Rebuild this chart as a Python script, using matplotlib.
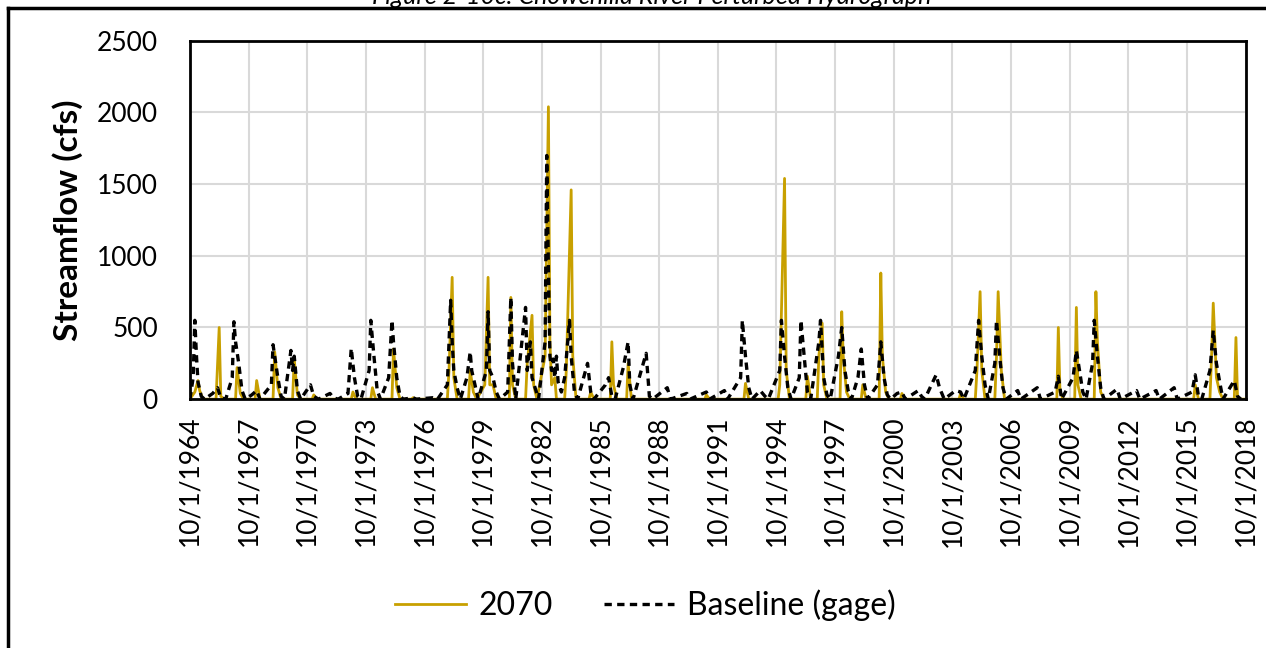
import pandas as pd
import matplotlib
matplotlib.use('Agg')
from matplotlib import pyplot as plt

plt.rcParams['font.family'] = ['Lato', 'DejaVu Sans']

# monthly key points (cfs)
base_dates = ['1964-10', '1964-12', '1965-01', '1965-02', '1965-03', '1965-05', '1965-07', '1965-12',
              '1966-03', '1966-05', '1966-08', '1966-12', '1967-01', '1967-02', '1967-04', '1967-06',
              '1967-08', '1967-12', '1968-03', '1968-05', '1968-12', '1969-01', '1969-02', '1969-04',
              '1969-06', '1969-08', '1969-12', '1970-01', '1970-02', '1970-04', '1970-06', '1970-12',
              '1971-02', '1971-05', '1971-12', '1972-02', '1972-05', '1972-11', '1973-01', '1973-03',
              '1973-05', '1973-07', '1973-12', '1974-01', '1974-03', '1974-05', '1974-07', '1974-12',
              '1975-02', '1975-03', '1975-05', '1975-07', '1975-09', '1976-03', '1976-05', '1977-03',
              '1977-06', '1977-12', '1978-02', '1978-03', '1978-04', '1978-06', '1978-08', '1978-12',
              '1979-02', '1979-03', '1979-05', '1979-07', '1979-12', '1980-01', '1980-02', '1980-04',
              '1980-06', '1980-08', '1981-01', '1981-03', '1981-04', '1981-06', '1981-12', '1982-01',
              '1982-03', '1982-04', '1982-08', '1982-12', '1983-01', '1983-02', '1983-03', '1983-04',
              '1983-05', '1983-06', '1983-07', '1983-08', '1983-10', '1983-12', '1984-03', '1984-04',
              '1984-06', '1984-08', '1985-02', '1985-04', '1985-06', '1986-01', '1986-03', '1986-05',
              '1986-07', '1986-12', '1987-03', '1987-04', '1987-06', '1988-02', '1988-04', '1988-06',
              '1989-03', '1989-05', '1990-03', '1990-05', '1991-03', '1991-05', '1992-02', '1992-04',
              '1992-12', '1993-01', '1993-03', '1993-05', '1993-07', '1993-12', '1994-03', '1994-05',
              '1994-12', '1995-01', '1995-03', '1995-05', '1995-07', '1995-12', '1996-01', '1996-03',
              '1996-05', '1996-07', '1996-12', '1997-01', '1997-03', '1997-05', '1997-07', '1997-12',
              '1998-02', '1998-04', '1998-06', '1998-08', '1998-12', '1999-02', '1999-04', '1999-06',
              '1999-12', '2000-02', '2000-04', '2000-06', '2000-08', '2000-12', '2001-03', '2001-05',
              '2002-01', '2002-03', '2002-05', '2002-12', '2003-02', '2003-05', '2003-12', '2004-03',
              '2004-05', '2004-12', '2005-02', '2005-04', '2005-06', '2005-08', '2005-12', '2006-01',
              '2006-03', '2006-05', '2006-07', '2007-02', '2007-04', '2008-02', '2008-04', '2009-01',
              '2009-03', '2009-05', '2009-12', '2010-02', '2010-04', '2010-06', '2010-08', '2010-12',
              '2011-01', '2011-03', '2011-05', '2011-07', '2012-03', '2012-05', '2013-03', '2013-05',
              '2014-03', '2014-05', '2015-02', '2015-04', '2016-01', '2016-03', '2016-05', '2016-07',
              '2016-12', '2017-02', '2017-04', '2017-06', '2017-08', '2018-03', '2018-05', '2018-07']
base_flow = [0, 150, 550, 300, 120, 20, 0, 40,
             80, 10, 0, 150, 540, 400, 250, 60,
             0, 30, 60, 0, 100, 380, 300, 150,
             20, 0, 340, 200, 300, 60, 0, 100,
             20, 0, 40, 10, 0, 40, 355, 150,
             20, 0, 200, 550, 300, 60, 0, 150,
             550, 400, 150, 20, 0, 10, 0, 10,
             0, 100, 690, 400, 200, 80, 0, 150,
             330, 200, 100, 0, 200, 610, 200, 150,
             50, 0, 50, 710, 250, 0, 640, 200,
             400, 150, 0, 400, 1700, 900, 300, 200,
             280, 150, 300, 120, 50, 150, 550, 300,
             50, 0, 250, 50, 0, 100, 150, 20,
             0, 220, 400, 100, 0, 320, 20, 0,
             80, 0, 40, 0, 50, 0, 60, 0,
             150, 550, 300, 80, 0, 60, 20, 0,
             200, 550, 300, 80, 0, 150, 550, 300,
             50, 0, 400, 550, 150, 30, 0, 300,
             500, 200, 60, 0, 150, 350, 100, 0,
             100, 400, 150, 30, 0, 40, 50, 0,
             60, 20, 0, 170, 80, 0, 60, 50,
             0, 200, 550, 300, 100, 0, 250, 550,
             300, 80, 0, 60, 0, 80, 0, 50,
             160, 0, 150, 340, 200, 50, 0, 250,
             550, 300, 80, 0, 70, 0, 60, 0,
             60, 0, 80, 0, 50, 170, 20, 0,
             200, 480, 250, 120, 0, 130, 20, 0]

fut_dates = ['1964-10', '1965-01', '1965-03', '1965-04', '1965-06', '1966-02', '1966-04', '1966-05',
             '1966-07', '1967-02', '1967-03', '1967-05', '1967-07', '1968-02', '1968-03', '1968-05',
             '1969-01', '1969-02', '1969-04', '1969-06', '1970-01', '1970-02', '1970-04', '1970-06',
             '1971-01', '1971-02', '1971-04', '1973-01', '1973-02', '1973-04', '1974-01', '1974-02',
             '1974-04', '1975-02', '1975-03', '1975-05', '1975-07', '1976-02', '1976-03', '1976-05',
             '1977-12', '1978-01', '1978-03', '1978-04', '1978-06', '1979-01', '1979-02', '1979-04',
             '1979-06', '1979-11', '1980-01', '1980-02', '1980-04', '1980-06', '1981-02', '1981-03',
             '1981-04', '1981-06', '1981-12', '1982-01', '1982-04', '1982-05', '1982-07', '1982-12',
             '1983-02', '1983-03', '1983-04', '1983-06', '1983-07', '1983-12', '1984-01', '1984-04',
             '1984-05', '1984-07', '1985-03', '1985-04', '1985-06', '1986-04', '1986-05', '1986-06',
             '1986-08', '1987-02', '1987-03', '1987-05', '1991-02', '1991-03', '1991-05', '1993-02',
             '1993-03', '1993-05', '1994-11', '1994-12', '1995-03', '1995-04', '1995-06', '1996-04',
             '1996-05', '1996-07', '1996-11', '1996-12', '1997-02', '1997-03', '1997-05', '1998-01',
             '1998-02', '1998-03', '1998-05', '1998-07', '1999-02', '1999-03', '1999-05', '2000-01',
             '2000-02', '2000-03', '2000-05', '2000-07', '2001-02', '2001-03', '2001-05', '2004-02',
             '2004-03', '2004-05', '2004-12', '2005-01', '2005-03', '2005-04', '2005-06', '2005-12',
             '2006-01', '2006-02', '2006-04', '2006-06', '2009-02', '2009-03', '2009-04', '2009-06',
             '2010-01', '2010-02', '2010-03', '2010-05', '2011-01', '2011-02', '2011-03', '2011-05',
             '2011-07', '2016-02', '2016-03', '2016-05', '2016-12', '2017-01', '2017-02', '2017-04',
             '2017-06', '2017-08', '2018-03', '2018-04', '2018-05', '2018-09']
fut_flow = [0, 50, 130, 60, 0, 0, 500, 20,
            0, 0, 220, 40, 0, 0, 130, 0,
            0, 330, 80, 0, 0, 280, 30, 0,
            0, 30, 0, 0, 50, 0, 0, 80,
            0, 0, 350, 80, 0, 0, 10, 0,
            0, 200, 850, 150, 0, 0, 200, 50,
            0, 100, 850, 100, 100, 0, 0, 710,
            100, 0, 0, 250, 585, 100, 0, 300,
            2040, 400, 100, 150, 0, 0, 200, 1460,
            300, 0, 0, 50, 0, 0, 400, 100,
            0, 0, 250, 0, 0, 30, 0, 0,
            110, 0, 0, 100, 1540, 200, 0, 0,
            160, 0, 0, 300, 530, 100, 0, 0,
            610, 300, 50, 0, 0, 100, 0, 0,
            880, 300, 50, 0, 0, 40, 0, 0,
            40, 0, 0, 200, 750, 200, 0, 0,
            300, 750, 200, 0, 0, 500, 50, 0,
            0, 640, 100, 0, 0, 750, 400, 50,
            0, 0, 100, 0, 0, 300, 670, 150,
            50, 0, 0, 430, 0, 0]

tick_years = list(range(1964, 2019, 3))
tick_labels = ['10/1/' + str(y) for y in tick_years]

fig = plt.figure(figsize=(12.66, 6.48), dpi=100)
ax = fig.add_axes([0.150, 0.384, 0.834, 0.553])

ax.plot(pd.to_datetime(fut_dates), fut_flow, color='#C8A000', linewidth=2, label='2070')
ax.plot(pd.to_datetime(base_dates), base_flow, color='black', linewidth=2.4,
        linestyle=(0, (2.2, 1.6)), label='Baseline (gage)')

ticks = pd.to_datetime([f'{y}-10-01' for y in tick_years])
ax.set_xticks(ticks)
ax.set_xticklabels(tick_labels, rotation=90, fontsize=19)
ax.set_xlim(ticks[0], ticks[-1])
ax.set_ylim(0, 2500)
ax.set_yticks(range(0, 2501, 500))
ax.tick_params(axis='y', labelsize=19, length=0, pad=23)
ax.tick_params(axis='x', length=0, pad=12)
ax.grid(True, color='#D9D9D9', linewidth=1.5)
ax.set_axisbelow(True)
for s in ax.spines.values():
    s.set_linewidth(2)
ax.set_ylabel('Streamflow (cfs)', fontsize=24, fontweight='bold', labelpad=10)

fig.legend(loc='center', bbox_to_anchor=(0.51, 0.066), ncol=2, frameon=False,
           fontsize=23, handlelength=2.2, columnspacing=1.6, handletextpad=0.4)

# cut-off caption and outer frame
fig.text(0.515, 1 - 4 / 648, 'Figure 2-10c: Chowchilla River Perturbed Hydrograph',
         ha='center', va='baseline', fontsize=18, style='italic')
fig.add_artist(plt.Line2D([8 / 1266, 1.0], [1 - 8 / 648, 1 - 8 / 648], color='black', linewidth=2.5))
fig.add_artist(plt.Line2D([8 / 1266, 8 / 1266], [0, 1 - 8 / 648], color='black', linewidth=2.5))

plt.savefig('out.png', dpi=100)
